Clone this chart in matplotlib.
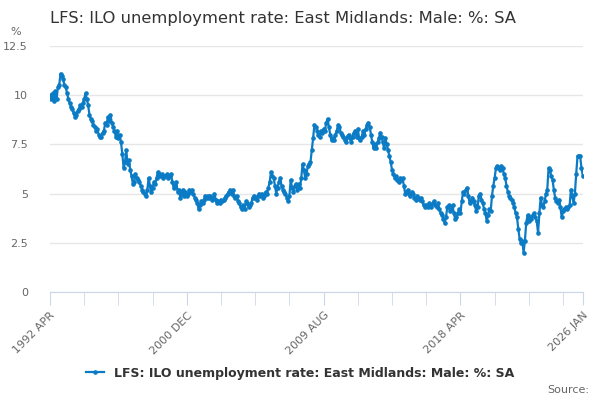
import matplotlib
matplotlib.use("Agg")
import matplotlib.pyplot as plt
import numpy as np

# monthly values, one row per April..March year, starting 1992 APR
rows = [
    [10.0, 9.8, 10.1, 9.7, 10.2, 9.8, 10.4, 10.5, 11.1, 11.0, 10.8, 10.5],  # 1992
    [10.4, 10.1, 9.8, 9.6, 9.4, 9.3, 9.1, 8.9, 9.0, 9.2, 9.3, 9.5],
    [9.4, 9.6, 9.8, 10.1, 9.8, 9.5, 9.0, 8.8, 8.7, 8.5, 8.4, 8.2],
    [8.3, 8.0, 7.9, 7.9, 8.1, 8.2, 8.6, 8.5, 8.9, 8.7, 9.0, 8.6],
    [8.4, 8.2, 7.9, 8.2, 7.8, 8.0, 7.6, 7.0, 6.3, 6.6, 7.2, 6.5],
    [6.7, 6.2, 5.9, 5.5, 5.6, 6.0, 5.8, 5.7, 5.6, 5.4, 5.2, 5.1],
    [5.0, 4.9, 5.2, 5.8, 5.4, 5.1, 5.3, 5.6, 5.5, 5.8, 6.1, 6.0],
    [5.9, 6.0, 5.8, 5.9, 5.9, 6.0, 5.8, 5.9, 6.0, 5.6, 5.3, 5.4],
    [5.6, 5.1, 5.2, 4.8, 5.0, 5.2, 4.9, 5.1, 4.9, 5.0, 5.2, 5.1],  # 2000
    [5.2, 5.0, 4.8, 4.7, 4.5, 4.2, 4.4, 4.6, 4.5, 4.7, 4.9, 4.8],
    [4.9, 4.8, 4.9, 4.7, 4.8, 5.0, 4.7, 4.5, 4.6, 4.5, 4.7, 4.6],
    [4.7, 4.8, 4.9, 5.0, 5.1, 5.2, 5.0, 5.2, 4.9, 4.8, 4.9, 4.6],
    [4.5, 4.3, 4.2, 4.4, 4.2, 4.6, 4.5, 4.3, 4.4, 4.5, 4.8, 4.9],
    [4.8, 4.7, 4.9, 5.0, 4.9, 5.0, 4.8, 4.9, 5.1, 5.0, 5.3, 5.6],
    [6.1, 5.9, 5.8, 5.4, 5.0, 5.3, 5.6, 5.8, 5.4, 5.2, 5.1, 5.0],
    [4.8, 4.6, 4.9, 5.7, 5.3, 5.1, 5.4, 5.5, 5.2, 5.5, 5.3, 5.8],
    [6.5, 6.2, 5.8, 6.0, 6.4, 6.5, 6.6, 7.2, 7.8, 8.5, 8.4, 8.2],
    [8.0, 7.9, 8.2, 8.1, 8.3, 8.2, 8.6, 8.8, 8.4, 8.0, 7.7, 7.8],
    [7.7, 8.0, 8.2, 8.5, 8.4, 8.1, 8.0, 7.9, 7.7, 7.6, 7.9, 8.0],  # 2010
    [7.8, 7.6, 7.9, 8.1, 8.2, 7.9, 8.3, 7.8, 7.7, 7.9, 8.2, 8.0],
    [8.3, 8.5, 8.6, 8.4, 8.0, 7.6, 7.3, 7.5, 7.3, 7.6, 7.8, 8.1],
    [7.9, 7.6, 7.3, 7.8, 7.5, 7.2, 6.9, 6.6, 6.2, 6.0, 5.8, 5.9],
    [5.7, 5.6, 5.8, 5.7, 5.8, 5.4, 5.0, 5.1, 5.2, 5.0, 4.9, 5.1],
    [5.0, 4.8, 4.7, 4.9, 4.8, 4.7, 4.8, 4.6, 4.4, 4.3, 4.4, 4.3],
    [4.5, 4.4, 4.3, 4.5, 4.6, 4.4, 4.3, 4.5, 4.2, 4.0, 3.9, 3.7],
    [3.5, 3.8, 4.3, 4.4, 4.1, 4.2, 4.4, 4.0, 3.7, 3.8, 4.0, 4.2],
    [4.0, 4.6, 5.1, 5.0, 5.2, 5.3, 4.9, 4.5, 4.6, 4.8, 4.6, 4.4],
    [4.1, 4.3, 4.9, 5.0, 4.7, 4.5, 4.2, 4.0, 3.6, 3.9, 4.2, 4.1],
    [4.9, 5.4, 5.8, 6.3, 6.4, 6.3, 6.2, 6.4, 6.3, 6.0, 5.8, 5.4],  # 2020
    [5.1, 4.9, 4.8, 4.7, 4.5, 4.3, 4.0, 3.8, 3.2, 2.7, 2.5, 2.6],
    [2.0, 2.6, 3.5, 3.9, 3.6, 3.8, 3.7, 3.9, 4.0, 3.8, 3.6, 3.0],
    [4.0, 4.8, 4.4, 4.3, 4.6, 5.0, 5.2, 6.3, 6.2, 5.9, 5.7, 5.2],
    [4.8, 4.6, 4.5, 4.7, 4.3, 3.8, 4.1, 4.2, 4.3, 4.2, 4.3, 4.4],
    [5.2, 4.9, 4.5, 5.0, 6.0, 6.9, 6.9, 6.9, 6.3, 5.9],  # 2025 APR .. 2026 JAN
]
values = [v for r in rows for v in r]
months = np.arange(len(values))

tick_labels = ["1992 APR", "2000 DEC", "2009 AUG", "2018 APR", "2026 JAN"]
tick_pos = [0, 104, 208, 312, len(values) - 1]
y_ticks = [0, 2.5, 5, 7.5, 10, 12.5]
y_labels = ["0", "2.5", "5", "7.5", "10", "12.5"]

series_name = "LFS: ILO unemployment rate: East Midlands: Male: %: SA"
line_color = "#0a7bc4"

fig = plt.figure(figsize=(6, 4), dpi=100)
ax = fig.add_axes([0.0833, 0.27, 0.888, 0.615])

ax.plot(months, values, color=line_color, lw=1.6, marker="o", ms=2.3,
        label=series_name)

ax.set_xlim(0, len(values) - 1)
ax.set_ylim(0, 12.5)
ax.set_yticks(y_ticks)
ax.set_yticklabels(y_labels)
ax.grid(axis="y", color="#e6e6e6", lw=1)
ax.set_axisbelow(True)

for s in ["top", "right", "left"]:
    ax.spines[s].set_visible(False)
ax.spines["bottom"].set_color("#ccd6eb")

ax.set_xticks(tick_pos)
ax.set_xticklabels(tick_labels, rotation=45, ha="right", rotation_mode="anchor")
ax.set_xticks(np.arange(0, len(values), 26), minor=True)
ax.tick_params(axis="x", which="both", length=9, color="#ccd6eb",
               labelsize=8, labelcolor="#666666", pad=4)
ax.tick_params(axis="y", length=0, labelsize=8, labelcolor="#666666", pad=16)

fig.text(0.083, 0.955, series_name, fontsize=11.8, color="#333333",
         va="center", ha="left")
fig.text(0.017, 0.92, "%", fontsize=8, color="#666666", va="center")

leg = fig.legend(loc="center", bbox_to_anchor=(0.5, 0.067), frameon=False,
                 handlelength=1.4, prop={"weight": "bold", "size": 9})
for t in leg.get_texts():
    t.set_color("#333333")
fig.text(0.982, 0.025, "Source:", fontsize=8, color="#666666", ha="right",
         va="center")

fig.savefig("out.png", dpi=100)
